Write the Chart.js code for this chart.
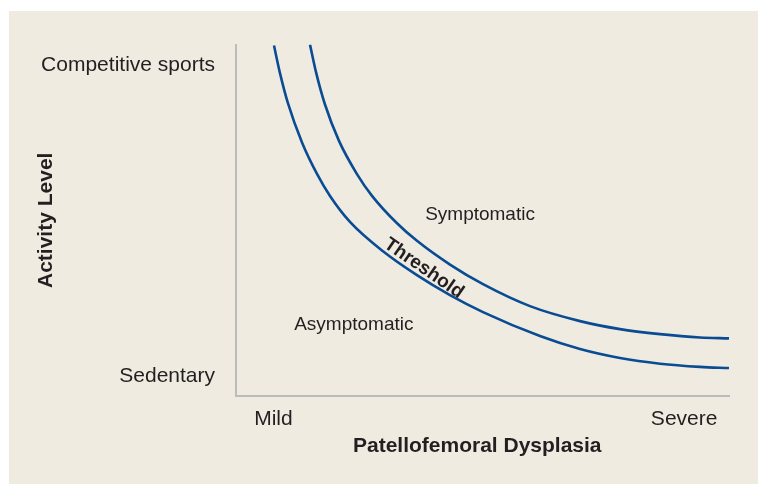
<!DOCTYPE html>
<html>
<head>
<meta charset="utf-8">
<script src="https://cdn.jsdelivr.net/npm/chart.js@4/dist/chart.umd.min.js"></script>
<style>
  html, body { margin: 0; padding: 0; background: #ffffff; }
  #panel {
    position: absolute; left: 9px; top: 11px;
    width: 749px; height: 473px; background: #efebe1;
  }
</style>
</head>
<body>
<div id="panel"><canvas id="threshold-chart" width="749" height="473"></canvas></div>
<script>
// lower curve (boundary of asymptomatic zone)
var lowerX = [7.71, 8.92, 10.55, 13.39, 16.43, 19.07, 23.12, 29.82, 36.71, 43.41, 50.10, 61.66, 69.78, 77.89, 86.00, 94.12, 100];
var lowerY = [99.72, 91.88, 83.24, 72.16, 63.21, 56.93, 49.55, 41.19, 34.38, 28.69, 23.86, 17.05, 13.35, 10.80, 9.20, 8.30, 7.95];

// upper curve (start of symptomatic zone)
var upperX = [15.01, 16.23, 18.05, 20.89, 24.54, 27.59, 32.66, 36.71, 43.41, 50.10, 59.63, 69.78, 77.89, 86.00, 94.12, 100];
var upperY = [100, 92.16, 82.95, 72.61, 63.16, 56.96, 49.15, 44.15, 37.39, 31.82, 25.57, 21.31, 19.03, 17.61, 16.65, 16.39];

var xTickValues = [7.6, 90.9];
var xTickLabels = ['Mild', 'Severe'];
var yTickValues = [5.7, 94.1];
var yTickLabels = ['Sedentary', 'Competitive sports'];

var zoneLabels = ['Symptomatic', 'Asymptomatic', 'Threshold'];

function toPoints(xs, ys) {
    return xs.map(function (x, i) { return { x: x, y: ys[i] }; });
}

var blue = '#0a4c93';
var ink = '#231f20';
var axisGrey = '#bcbcbc';
var font = 'Liberation Sans, Arial, Helvetica, sans-serif';

var zoneText = {
    id: 'zoneText',
    afterDatasetsDraw: function (chart) {
        var ctx = chart.ctx;
        var xs = chart.scales.x, ys = chart.scales.y;
        ctx.save();
        ctx.fillStyle = ink;
        ctx.textAlign = 'center';
        ctx.textBaseline = 'middle';
        ctx.font = '19px ' + font;
        ctx.fillText(zoneLabels[0], xs.getPixelForValue(49.5), ys.getPixelForValue(51.7));
        ctx.fillText(zoneLabels[1], xs.getPixelForValue(23.9), ys.getPixelForValue(20.2));
        ctx.translate(xs.getPixelForValue(38.1), ys.getPixelForValue(36.3));
        ctx.rotate(34.5 * Math.PI / 180);
        ctx.font = 'bold 19px ' + font;
        ctx.fillText(zoneLabels[2], 0, 0);
        ctx.restore();
    }
};

var ctx = document.getElementById('threshold-chart').getContext('2d');

new Chart(ctx, {
    type: 'line',
    data: {
        datasets: [{
            label: 'Asymptomatic limit',
            data: toPoints(lowerX, lowerY),
            borderColor: blue,
            borderWidth: 2.6,
            pointRadius: 0,
            cubicInterpolationMode: 'monotone',
            fill: false
        }, {
            label: 'Symptomatic limit',
            data: toPoints(upperX, upperY),
            borderColor: blue,
            borderWidth: 2.6,
            pointRadius: 0,
            cubicInterpolationMode: 'monotone',
            fill: false
        }]
    },
    options: {
        responsive: false,
        animation: false,
        layout: {
            padding: { top: 33, right: 29, left: 0, bottom: 0 }
        },
        scales: {
            x: {
                type: 'linear',
                min: 0,
                max: 100,
                afterFit: function (scale) { scale.height = 88; },
                afterBuildTicks: function (scale) {
                    scale.ticks = xTickValues.map(function (v) { return { value: v }; });
                },
                grid: { display: false, drawTicks: false },
                border: { display: true, color: axisGrey, width: 2 },
                ticks: {
                    padding: 11,
                    color: ink,
                    font: { family: font, size: 21 },
                    maxRotation: 0,
                    callback: function (value) {
                        return xTickLabels[xTickValues.indexOf(value)];
                    }
                },
                title: {
                    display: true,
                    text: 'Patellofemoral Dysplasia\u2002',
                    color: ink,
                    font: { family: font, size: 21, weight: 'bold' },
                    padding: { top: 0, bottom: 25 }
                }
            },
            y: {
                type: 'linear',
                min: 0,
                max: 100,
                afterFit: function (scale) { scale.width = 227; },
                afterBuildTicks: function (scale) {
                    scale.ticks = yTickValues.map(function (v) { return { value: v }; });
                },
                grid: { display: false, drawTicks: false },
                border: { display: true, color: axisGrey, width: 2 },
                ticks: {
                    padding: 21,
                    color: ink,
                    font: { family: font, size: 21 },
                    callback: function (value) {
                        return yTickLabels[yTickValues.indexOf(value)];
                    }
                },
                title: {
                    display: true,
                    text: 'Activity Level',
                    color: ink,
                    font: { family: font, size: 21, weight: 'bold' },
                    padding: { top: 25, bottom: 0 }
                }
            }
        },
        plugins: {
            legend: { display: false },
            tooltip: { enabled: false }
        }
    },
    plugins: [zoneText]
});
</script>
</body>
</html>
